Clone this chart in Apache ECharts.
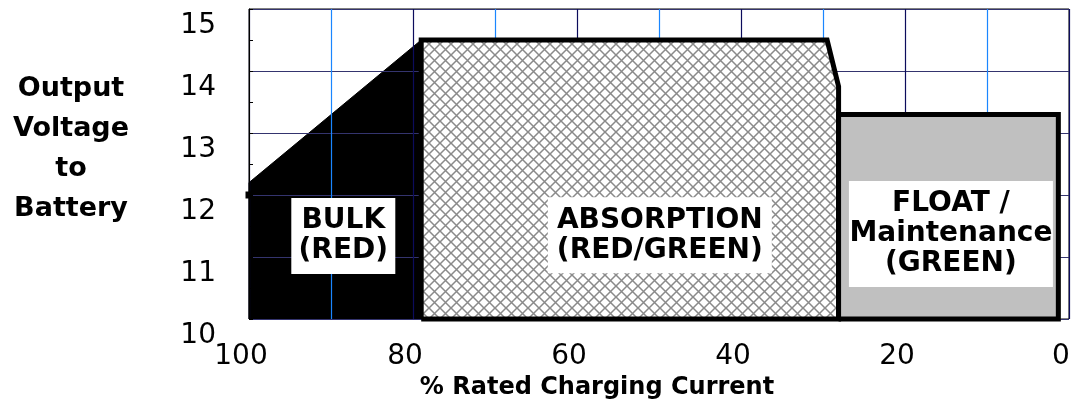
<!DOCTYPE html>
<html><head><meta charset="utf-8">
<script src="https://cdn.jsdelivr.net/npm/echarts@6/dist/echarts.min.js"></script>
<style>html,body{margin:0;padding:0;background:#fff}#c{width:1072px;height:408px}</style>
</head><body><div id="c"></div>
<script>
// ---- data ----
const xTickLabels = [100, 80, 60, 40, 20, 0];
const yTickLabels = [10, 11, 12, 13, 14, 15];
const bulkPoints = [[100, 10], [100, 12.2], [79, 14.5], [79, 10]];
const absorptionPoints = [[79, 10], [79, 14.5], [29.5, 14.5], [28.1, 13.75], [28.1, 10], [79, 10]];
const floatPoints = [[28.1, 10], [28.1, 13.3], [1.3, 13.3], [1.3, 10], [28.1, 10]];
const bulkMarker = [[100, 12]];
const phaseNames = ['BULK\n(RED)', 'ABSORPTION\n(RED/GREEN)', 'FLOAT /\nMaintenance\n(GREEN)'];
const phaseLabelX = [88.5, 49.9, 14.4];
const phaseLabelY = [11.34, 11.35, 11.37];
const xTitle = '% Rated Charging Current';
const yTitleLines = ['Output', 'Voltage', 'to', 'Battery'];

// ---- styles ----
const boxSizes = [[104, 76], [224, 76], [204, 106]];

function hatch() {
  const c = document.createElement('canvas');
  c.width = 11; c.height = 11;
  const g = c.getContext('2d');
  g.fillStyle = '#ffffff'; g.fillRect(0, 0, 11, 11);
  g.strokeStyle = '#8a8a8a'; g.lineWidth = 1.5;
  g.beginPath();
  g.moveTo(-1, -1); g.lineTo(12, 12);
  g.moveTo(12, -1); g.lineTo(-1, 12);
  g.stroke();
  return c;
}

const chart = echarts.init(document.getElementById('c'));
const labelData = phaseNames.map((n, i) => ({
  name: n,
  value: [phaseLabelX[i], phaseLabelY[i]],
  label: { width: boxSizes[i][0], height: boxSizes[i][1] }
}));

chart.setOption({
  animation: false,
  grid: { left: 249, right: 3, top: 9, bottom: 89, show: true, borderColor: '#000', borderWidth: 1,
          backgroundColor: 'transparent', outerBoundsMode: 'none', containLabel: false },
  xAxis: {
    type: 'value', min: 0, max: 100, interval: 10, inverse: true, z: 1,
    axisLine: { show: false, onZero: false }, axisTick: { show: false },
    splitLine: { show: true, lineStyle: { color: ['#0c0c5c', '#1a86ff'], width: 1.2 } },
    axisLabel: {
      margin: 24, fontSize: 28, color: '#000', fontFamily: 'DejaVu Sans', padding: [0, 16, 0, 0],
      formatter: v => xTickLabels.indexOf(v) >= 0 ? String(v) : ''
    },
    name: xTitle, nameLocation: 'middle', nameGap: 56,
    nameTextStyle: { fontFamily: 'DejaVu Sans', fontWeight: 'bold', fontSize: 24, color: '#000', padding: [0, 124, 0, 0] }
  },
  yAxis: {
    type: 'value', min: 10, max: 15, interval: 1, z: 1,
    axisLine: { show: true, onZero: false, lineStyle: { color: '#000', width: 1 } },
    axisTick: { show: true, inside: true, length: 4, lineStyle: { color: '#000' } },
    minorTick: { show: true, splitNumber: 2, length: 4, lineStyle: { color: '#000' } },
    splitLine: { show: true, lineStyle: { color: '#34346e', width: 1.2 } },
    axisLabel: {
      margin: 33, color: '#000',
      formatter: v => yTickLabels.indexOf(v) >= 0 ? '{s| }\n{n|' + v + '}' : '',
      rich: {
        s: { fontSize: 10, lineHeight: 34 },
        n: { fontSize: 28, lineHeight: 28, fontFamily: 'DejaVu Sans', color: '#000' }
      }
    },
    name: yTitleLines.map(t => '{t|' + t + '}').join('\n') + '\n{s| }',
    nameLocation: 'middle', nameGap: 178, nameRotate: 0,
    nameTextStyle: {
      align: 'center', verticalAlign: 'middle',
      rich: {
        t: { fontFamily: 'DejaVu Sans', fontWeight: 'bold', fontSize: 27, lineHeight: 40, color: '#000', align: 'center' },
        s: { fontSize: 10, lineHeight: 30 }
      }
    }
  },
  series: [
    {
      type: 'line', data: bulkPoints, z: 0, showSymbol: false, clip: false, silent: true,
      lineStyle: { color: '#000', width: 1 }, areaStyle: { color: '#000', opacity: 1 }
    },
    {
      type: 'line', data: absorptionPoints, z: 2, showSymbol: false, clip: false, silent: true,
      lineStyle: { color: '#000', width: 5, join: 'miter' },
      areaStyle: { color: { image: hatch(), repeat: 'repeat' }, opacity: 1 }
    },
    {
      type: 'line', data: floatPoints, z: 3, showSymbol: false, clip: false, silent: true,
      lineStyle: { color: '#000', width: 5, join: 'miter' },
      areaStyle: { color: '#c0c0c0', opacity: 1 }
    },
    {
      type: 'scatter', data: bulkMarker, z: 4, symbol: 'rect', symbolSize: 7,
      itemStyle: { color: '#000', opacity: 1 }, silent: true
    },
    {
      type: 'scatter', data: labelData, z: 5, symbolSize: 0, silent: true,
      itemStyle: { opacity: 1 },
      label: {
        show: true, position: 'inside', formatter: '{b}', color: '#000', opacity: 1,
        fontFamily: 'DejaVu Sans', fontWeight: 'bold', fontSize: 28, lineHeight: 30,
        backgroundColor: '#fff', align: 'center', verticalAlign: 'middle'
      }
    }
  ]
});
</script></body></html>
